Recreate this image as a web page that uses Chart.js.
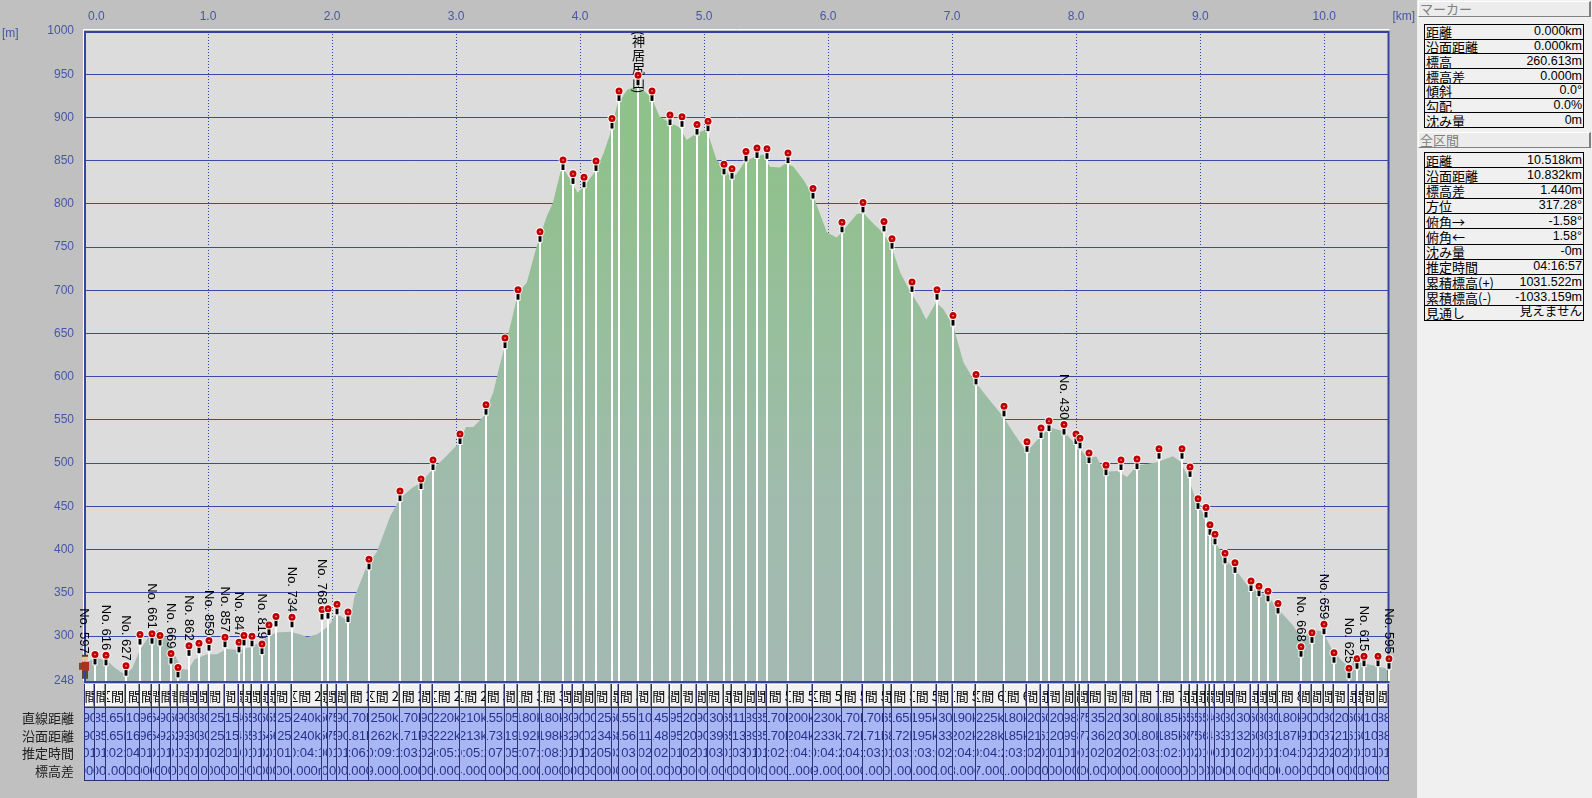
<!DOCTYPE html>
<html lang="ja">
<head>
<meta charset="UTF-8">
<title>断面図</title>
<script src="https://cdn.jsdelivr.net/npm/chart.js"></script>
<style>
    html, body { margin: 0; padding: 0; background: #c0c0c0; }
    body { width: 1592px; height: 798px; position: relative; overflow: hidden; }
    #chart { position: absolute; left: 0; top: 0; }
    #panel {
        position: absolute; left: 1417px; top: 0; width: 175px; height: 798px;
        background: #f0f0f0; font-family: "Noto Sans CJK JP", sans-serif; color: #000;
    }
    .hdr {
        position: absolute; left: 1px; width: 173px; height: 16px; box-sizing: border-box;
        border-top: 1px solid #fff; border-left: 1px solid #fff;
        border-right: 2px solid #808080; border-bottom: 1px solid #808080;
        background: #ececec; color: #808080; font-size: 13px; line-height: 14px; padding-left: 1px;
    }
    .tbl {
        position: absolute; left: 7px; width: 160px; box-sizing: border-box;
        border: 1px solid #000; display: flex; flex-direction: column;
    }
    .row {
        flex: 1; display: flex; justify-content: space-between; align-items: center;
        border-bottom: 1px solid #000; padding: 0 1px; overflow: hidden; white-space: nowrap;
    }
    .row:last-child { border-bottom: none; }
    .row .k { font-size: 13px; line-height: 13px; }
    .row .v { font-family: "Liberation Sans", "Noto Sans CJK JP", sans-serif; font-size: 12.5px; line-height: 13px; }
</style>
</head>
<body>
<canvas id="chart" width="1592" height="798"></canvas>
<div id="panel">
    <div class="hdr" style="top:1px">マーカー</div>
    <div class="tbl" id="markerTbl" style="top:24px;height:104px"></div>
    <div class="hdr" style="top:132px">全区間</div>
    <div class="tbl" id="totalTbl" style="top:152px;height:169px"></div>
</div>
<script>
// 目盛り
const xTicks = [0, 1, 2, 3, 4, 5, 6, 7, 8, 9, 10];
const yTicks = [248, 300, 350, 400, 450, 500, 550, 600, 650, 700, 750, 800, 850, 900, 950, 1000];

// 断面 (距離 km / 標高 m)
const profileKm = [0.00, 0.05, 0.12, 0.19, 0.25, 0.30, 0.34, 0.39, 0.45, 0.51, 0.56, 0.60, 0.64, 0.69, 0.75, 0.79, 0.84, 0.89, 0.99, 1.07,
    1.15, 1.26, 1.36, 1.47, 1.55, 1.66, 1.74, 1.80, 1.88, 1.95, 1.99, 2.03, 2.08, 2.12, 2.15, 2.18, 2.28, 2.36, 2.47, 2.55,
    2.65, 2.70, 2.72, 2.81, 2.90, 3.00, 3.05, 3.08, 3.14, 3.22, 3.30, 3.35, 3.43, 3.50, 3.57, 3.65, 3.73, 3.78, 3.84, 3.86,
    3.92, 3.98, 4.05, 4.13, 4.19, 4.24, 4.30, 4.38, 4.46, 4.52, 4.58, 4.64, 4.72, 4.80, 4.86, 4.94, 5.02, 5.10, 5.15, 5.21,
    5.26, 5.33, 5.42, 5.48, 5.53, 5.61, 5.66, 5.72, 5.80, 5.88, 5.93, 5.99, 6.07, 6.15, 6.23, 6.28, 6.36, 6.44, 6.51, 6.58,
    6.66, 6.74, 6.79, 6.87, 6.93, 7.01, 7.09, 7.17, 7.28, 7.41, 7.49, 7.60, 7.71, 7.79, 7.90, 7.98, 8.03, 8.10, 8.16, 8.23,
    8.33, 8.41, 8.49, 8.65, 8.78, 8.84, 8.90, 8.97, 9.05, 9.11, 9.20, 9.28, 9.40, 9.54, 9.63, 9.75, 9.83, 9.88, 9.99, 10.07,
    10.18, 10.26, 10.40, 10.518];
const profileElev = [262, 272, 274, 271, 263, 258, 256, 263, 284, 297, 304, 307, 303, 292, 273, 262, 261, 273, 279, 279,
    285, 284, 288, 298, 304, 305, 302, 299, 302, 309, 315, 326, 322, 318, 320, 345, 381, 397, 439, 460,
    472, 476, 478, 493, 505, 520, 532, 542, 542, 554, 582, 612, 655, 697, 709, 751, 785, 801, 836, 842,
    828, 813, 824, 839, 859, 880, 915, 932, 936, 930, 922, 901, 894, 889, 874, 882, 886, 851, 843, 832,
    834, 849, 855, 857, 843, 842, 847, 843, 828, 809, 790, 767, 761, 774, 788, 790, 778, 767, 751, 721,
    699, 681, 666, 686, 678, 658, 617, 597, 577, 554, 536, 513, 531, 541, 537, 524, 516, 505, 508, 490,
    491, 484, 497, 501, 508, 502, 485, 455, 435, 412, 389, 378, 355, 347, 331, 312, 293, 308, 305, 282,
    266, 270, 266, 262];

// ウェイポイント
const markerKm = [0.00, 0.09, 0.175, 0.34, 0.45, 0.546, 0.61, 0.70, 0.76, 0.85, 0.93, 1.01, 1.135, 1.25, 1.29, 1.355, 1.435, 1.495, 1.55, 1.675,
    1.915, 1.965, 2.04, 2.13, 2.30, 2.55, 2.72, 2.81, 3.03, 3.24, 3.395, 3.50, 3.68, 3.86, 3.94, 4.03, 4.13, 4.255, 4.315, 4.47,
    4.58, 4.725, 4.82, 4.94, 5.03, 5.16, 5.225, 5.336, 5.425, 5.51, 5.68, 5.88, 6.11, 6.28, 6.45, 6.515, 6.68, 6.875, 7.005, 7.195,
    7.42, 7.60, 7.72, 7.78, 7.90, 7.998, 8.03, 8.105, 8.24, 8.36, 8.49, 8.67, 8.855, 8.92, 8.985, 9.05, 9.08, 9.12, 9.20, 9.28,
    9.41, 9.47, 9.55, 9.63, 9.81, 9.90, 10.00, 10.08, 10.20, 10.26, 10.32, 10.43, 10.518];
const markerElev = [261, 266, 265, 253, 289, 290, 288, 267, 251, 276, 279, 282, 286, 280, 288, 287, 278, 300, 310, 309,
    318, 319, 324, 315, 376, 455, 469, 491, 521, 555, 632, 688, 755, 838, 822, 818, 837, 886, 918, 936,
    918, 890, 888, 879, 883, 833, 828, 848, 852, 851, 846, 805, 766, 789, 767, 747, 697, 688, 658, 590,
    553, 512, 528, 536, 532, 521, 516, 499, 485, 491, 492, 504, 504, 483, 446, 436, 416, 405, 383, 372,
    351, 345, 339, 325, 275, 291, 301, 268, 250, 261, 264, 264, 261];
const labelIdx = [0, 2, 3, 5, 7, 9, 11, 12, 13, 16, 19, 20, 64, 84, 86, 88, 90, 92];
const labelText = ['No. 597', 'No. 616', 'No. 627', 'No. 661', 'No. 669', 'No. 862', 'No. 859', 'No. 857', 'No. 847', 'No. 819',
    'No. 734', 'No. 768', 'No. 430', 'No. 668', 'No. 659', 'No. 625', 'No. 615', 'No. 595'];
const summitIdx = 39;
const summitName = '神居尻山';

// 表
const rowLabels = ['直線距離', '沿面距離', '推定時間', '標高差'];
const markerInfoLabels = ['距離', '沿面距離', '標高', '標高差', '傾斜', '勾配', '沈み量'];
const markerInfoValues = ['0.000km', '0.000km', '260.613m', '0.000m', '0.0°', '0.0%', '0m'];
const totalInfoLabels = ['距離', '沿面距離', '標高差', '方位', '俯角→', '俯角←', '沈み量', '推定時間', '累積標高(+)', '累積標高(-)', '見通し'];
const totalInfoValues = ['10.518km', '10.832km', '1.440m', '317.28°', '-1.58°', '1.58°', '-0m', '04:16:57', '1031.522m', '-1033.159m', '見えません'];

function fillTable(id, labels, values) {
    const el = document.getElementById(id);
    labels.forEach((l, i) => {
        const r = document.createElement('div');
        r.className = 'row';
        r.innerHTML = '<span class="k"></span><span class="v"></span>';
        r.children[0].textContent = l;
        r.children[1].textContent = values[i];
        el.appendChild(r);
    });
}
fillTable('markerTbl', markerInfoLabels, markerInfoValues);
fillTable('totalTbl', totalInfoLabels, totalInfoValues);

const BLUE = '#4656a6';

function hms(s) {
    const h = Math.floor(s / 3600), m = Math.floor(s / 60) % 60, ss = s % 60;
    return [h, m, ss].map(v => String(v).padStart(2, '0')).join(':');
}

function segTexts(i) {
    const dkm = markerKm[i] - markerKm[i - 1];
    const dz = markerElev[i] - markerElev[i - 1];
    const surf = Math.sqrt(dkm * dkm + (dz / 1000) * (dz / 1000));
    const sec = Math.round(surf * 900 + Math.max(dz, 0) * 4 + Math.max(-dz, 0) * 1.5);
    return [dkm.toFixed(3) + 'km', surf.toFixed(3) + 'km', hms(sec), dz.toFixed(3) + 'm'];
}

function drawPin(ctx, x, y) {
    ctx.fillStyle = '#fff';
    ctx.fillRect(x - 2.5, y - 9, 5, 9);
    ctx.fillStyle = '#000';
    ctx.fillRect(x - 1.5, y - 8, 3, 7);
    ctx.beginPath(); ctx.arc(x, y - 11, 4.5, 0, Math.PI * 2); ctx.fillStyle = '#fff'; ctx.fill();
    ctx.beginPath(); ctx.arc(x, y - 11, 3.5, 0, Math.PI * 2); ctx.fillStyle = '#c00000'; ctx.fill();
    ctx.fillStyle = '#ffb8b8'; ctx.fillRect(x - 0.6, y - 11.6, 1.3, 1.3);
}

function drawHiker(ctx, x, y) {
    ctx.fillStyle = '#5a4634'; ctx.fillRect(x - 3, y, 2, 9); ctx.fillRect(x + 1, y, 2, 9);
    ctx.fillStyle = '#b03020'; ctx.fillRect(x - 3, y - 8, 7, 9);
    ctx.fillStyle = '#7a4a28'; ctx.fillRect(x - 6, y - 7, 3, 7);
    ctx.fillStyle = '#f0c090'; ctx.beginPath(); ctx.arc(x, y - 11, 3, 0, Math.PI * 2); ctx.fill();
    ctx.fillStyle = '#603818'; ctx.fillRect(x - 3, y - 15, 6, 2);
}

const profilePlugin = {
    id: 'profile',
    beforeDraw(chart) {
        const { ctx, chartArea: a } = chart;
        ctx.save();
        ctx.fillStyle = '#dcdcdc';
        ctx.fillRect(a.left, a.top, a.right - a.left, a.bottom - a.top);
        ctx.restore();
    },
    afterDraw(chart) {
        const { ctx, chartArea: a } = chart;
        const xs = chart.scales.x;
        const pts = chart.getDatasetMeta(1).data;
        ctx.save();

        // 枠
        ctx.strokeStyle = '#fff'; ctx.lineWidth = 1;
        ctx.beginPath(); ctx.moveTo(a.left - 0.5, a.bottom); ctx.lineTo(a.left - 0.5, a.top - 1.5); ctx.lineTo(a.right + 1, a.top - 1.5); ctx.stroke();
        ctx.strokeStyle = '#3444a0'; ctx.lineWidth = 2;
        ctx.strokeRect(a.left + 1, a.top + 1, a.right - a.left - 1, a.bottom - a.top);

        // 目盛り (上)
        ctx.fillStyle = BLUE;
        ctx.font = '12px "Liberation Sans"';
        ctx.textBaseline = 'middle';
        xTicks.forEach(v => {
            const px = xs.getPixelForValue(v);
            if (v === 0) { ctx.textAlign = 'left'; ctx.fillText(v.toFixed(1), px + 4, 17); }
            else { ctx.textAlign = 'center'; ctx.fillText(v.toFixed(1), px, 17); }
        });
        ctx.textAlign = 'left';
        ctx.fillText('[km]', a.right + 4, 17);
        ctx.fillText('[m]', 2, 34);

        // 縦線
        ctx.strokeStyle = '#ffffff'; ctx.lineWidth = 2;
        pts.forEach((p, i) => {
            if (i === 0) return;
            const x = Math.round(p.x);
            ctx.beginPath(); ctx.moveTo(x, p.y); ctx.lineTo(x, a.bottom); ctx.stroke();
        });

        // 名前
        ctx.fillStyle = '#000';
        ctx.font = '13px "Liberation Sans"';
        labelIdx.forEach((idx, k) => {
            const p = pts[idx];
            ctx.save();
            ctx.translate(Math.round(p.x), p.y - 16);
            ctx.rotate(Math.PI / 2);
            ctx.textAlign = 'right';
            ctx.textBaseline = 'middle';
            ctx.fillText(labelText[k], 0, 0);
            ctx.restore();
        });
        const sp = pts[summitIdx];
        const top = sp.y - 55;
        ctx.font = '13px "Noto Sans CJK JP"';
        ctx.textAlign = 'center'; ctx.textBaseline = 'middle';
        const paren = (ch, yy) => {
            ctx.save(); ctx.translate(sp.x, yy); ctx.rotate(Math.PI / 2); ctx.fillText(ch, 0, 0); ctx.restore();
        };
        paren('(', top + 2);
        [...summitName].forEach((ch, i) => ctx.fillText(ch, sp.x, top + 10 + i * 13.5));
        paren(')', top + 10 + summitName.length * 13.5 - 4);

        // ピン
        pts.forEach((p, i) => {
            if (i === 0) drawHiker(ctx, Math.round(p.x) + 1, p.y);
            else drawPin(ctx, Math.round(p.x), p.y);
        });

        // 下の表
        const hTop = a.bottom + 3, hBot = a.bottom + 27, dBot = a.bottom + 100;
        const rowY = [hBot + 10, hBot + 28, hBot + 45, hBot + 63];
        ctx.fillStyle = '#a8b6f4';
        ctx.fillRect(a.left, hBot, a.right - a.left, dBot - hBot);
        for (let i = 1; i < markerKm.length; i++) {
            const x0 = Math.round(xs.getPixelForValue(markerKm[i - 1]));
            const x1 = Math.round(xs.getPixelForValue(markerKm[i]));
            const w = x1 - x0;
            // 見出し
            ctx.fillStyle = '#f2f2f2';
            ctx.fillRect(x0, hTop, w, hBot - hTop);
            ctx.fillStyle = '#fff';
            ctx.fillRect(x0 + 1, hTop, 1, hBot - hTop);
            ctx.fillRect(x0, hTop, w, 1);
            ctx.fillStyle = '#909090';
            ctx.fillRect(x1 - 2, hTop, 1, hBot - hTop);
            ctx.fillRect(x0, hBot - 2, w, 1);
            ctx.save();
            ctx.beginPath(); ctx.rect(x0 + 1, hTop, w - 2, dBot - hTop); ctx.clip();
            ctx.fillStyle = '#000';
            ctx.font = '13px "Noto Sans CJK JP"';
            ctx.textAlign = 'center'; ctx.textBaseline = 'middle';
            ctx.fillText('区間 ' + i, (x0 + x1) / 2, hTop + 12);
            ctx.fillStyle = '#27348c';
            ctx.font = '13px "Liberation Sans"';
            segTexts(i).forEach((t, r) => ctx.fillText(t, (x0 + x1) / 2, rowY[r]));
            ctx.restore();
            ctx.fillStyle = '#2a3274';
            ctx.fillRect(x1 - 1, hTop, 1, dBot - hTop);
        }
        ctx.fillStyle = '#2a3274';
        ctx.fillRect(a.left, hTop, 1, dBot - hTop);
        ctx.fillRect(a.left, hBot - 1, a.right - a.left, 1);
        ctx.fillRect(a.left, dBot - 1, a.right - a.left, 1);

        ctx.fillStyle = '#202020';
        ctx.font = '13px "Noto Sans CJK JP"';
        ctx.textAlign = 'right'; ctx.textBaseline = 'middle';
        rowLabels.forEach((t, r) => ctx.fillText(t, a.left - 10, rowY[r]));
        ctx.restore();
    }
};

new Chart(document.getElementById('chart'), {
    type: 'line',
    data: {
        datasets: [
            {
                label: '標高',
                data: profileKm.map((k, i) => ({ x: k, y: profileElev[i] })),
                fill: 'start',
                borderWidth: 0,
                pointRadius: 0,
                backgroundColor(c) {
                    const ch = c.chart;
                    if (!ch.chartArea) return '#9fbcac';
                    const ys = ch.scales.y;
                    const g = ch.ctx.createLinearGradient(0, ys.getPixelForValue(1000), 0, ys.getPixelForValue(248));
                    g.addColorStop(0.00, '#8cc488');
                    g.addColorStop(0.20, '#90c18c');
                    g.addColorStop(0.50, '#99bea0');
                    g.addColorStop(0.72, '#a0bbad');
                    g.addColorStop(1.00, '#a3b9b2');
                    return g;
                }
            },
            {
                label: 'マーカー',
                data: markerKm.map((k, i) => ({ x: k, y: markerElev[i] })),
                showLine: false,
                pointRadius: 0
            }
        ]
    },
    options: {
        responsive: false,
        animation: false,
        events: [],
        layout: { padding: { left: 0, top: 0, right: 203.5, bottom: 117 } },
        plugins: { legend: { display: false }, tooltip: { enabled: false } },
        scales: {
            x: {
                type: 'linear', position: 'top', min: 0, max: 10.518, z: 1,
                afterBuildTicks: s => { s.ticks = xTicks.map(v => ({ value: v })); },
                afterFit: s => { s.height = 31; },
                ticks: { display: false },
                grid: { color: '#3646a4', lineWidth: 1, drawTicks: false },
                border: { display: false, dash: [1, 2] }
            },
            y: {
                min: 248, max: 1000, z: 1,
                afterBuildTicks: s => { s.ticks = yTicks.map(v => ({ value: v })); },
                afterFit: s => { s.width = 84; },
                ticks: {
                    color: BLUE, padding: 10, autoSkip: false,
                    font: { family: 'Liberation Sans', size: 12 },
                    callback: v => String(v)
                },
                grid: { color: '#3a4aa8', lineWidth: 1, drawTicks: false },
                border: { display: false }
            }
        }
    },
    plugins: [profilePlugin]
});
</script>
</body>
</html>
